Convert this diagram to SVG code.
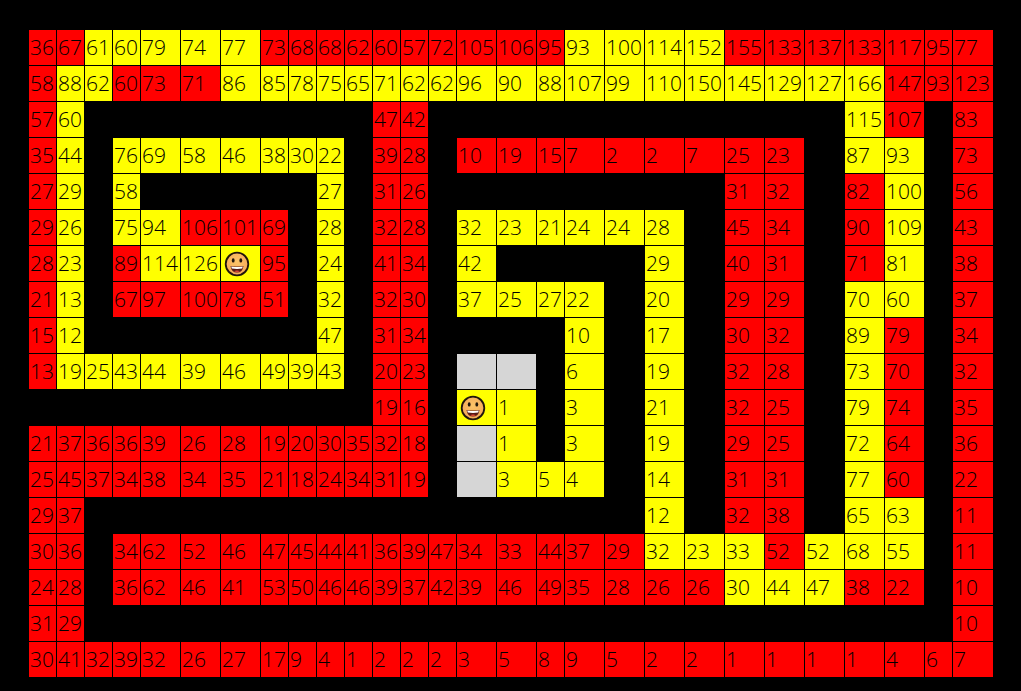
<svg xmlns="http://www.w3.org/2000/svg" width="1021" height="691" viewBox="0 0 1021 691">
<style>
rect.c{height:35px}
.n{width:27px}.w{width:39px}.l{width:40px}
.r{fill:#ff0000}.y{fill:#ffff00}.g{fill:#d6d6d6}
text{font-family:"Open Sans","Noto Sans","Liberation Sans",sans-serif;font-size:21px;font-weight:300;fill:#000}
</style>
<defs>
<radialGradient id="face" cx="50%" cy="40%" r="60%"><stop offset="0" stop-color="#fcc468"/><stop offset="1" stop-color="#f4a858"/></radialGradient>
<g id="smile">
<circle r="11.3" fill="url(#face)" stroke="#20160c" stroke-width="1.8"/>
<ellipse cx="-3.8" cy="-3.6" rx="1.4" ry="2.2" fill="#20160c"/>
<ellipse cx="3.8" cy="-3.6" rx="1.4" ry="2.2" fill="#20160c"/>
<path d="M-6.5 2 Q0 3.2 6.5 2 Q5.6 8.6 0 8.6 Q-5.6 8.6 -6.5 2Z" fill="#5a1a14"/>
<path d="M-5.8 2.4 Q0 3.4 5.8 2.4 L5.2 4.6 Q0 5.2 -5.2 4.6Z" fill="#fff"/>
<path d="M-3 7.2 Q0 5.6 3 7.2 Q0 8.8 -3 7.2Z" fill="#e0483c"/>
</g>
</defs>
<rect id="background" width="1021" height="691" fill="#000"/>
<g id="row0" transform="translate(0,30)"><rect class="c r n" x="29"/><text x="30" y="25">36</text><rect class="c r n" x="57"/><text x="58" y="25">67</text><rect class="c y n" x="85"/><text x="86" y="25">61</text><rect class="c y n" x="113"/><text x="114" y="25">60</text><rect class="c y w" x="141"/><text x="142" y="25">79</text><rect class="c y w" x="181"/><text x="182" y="25">74</text><rect class="c y w" x="221"/><text x="222" y="25">77</text><rect class="c r n" x="261"/><text x="262" y="25">73</text><rect class="c r n" x="289"/><text x="290" y="25">68</text><rect class="c r n" x="317"/><text x="318" y="25">68</text><rect class="c r n" x="345"/><text x="346" y="25">62</text><rect class="c r n" x="373"/><text x="374" y="25">60</text><rect class="c r n" x="401"/><text x="402" y="25">57</text><rect class="c r n" x="429"/><text x="430" y="25">72</text><rect class="c r w" x="457"/><text x="458" y="25">105</text><rect class="c r w" x="497"/><text x="498" y="25">106</text><rect class="c r n" x="537"/><text x="538" y="25">95</text><rect class="c y w" x="565"/><text x="566" y="25">93</text><rect class="c y w" x="605"/><text x="606" y="25">100</text><rect class="c y w" x="645"/><text x="646" y="25">114</text><rect class="c y w" x="685"/><text x="686" y="25">152</text><rect class="c r w" x="725"/><text x="726" y="25">155</text><rect class="c r w" x="765"/><text x="766" y="25">133</text><rect class="c r w" x="805"/><text x="806" y="25">137</text><rect class="c r w" x="845"/><text x="846" y="25">133</text><rect class="c r w" x="885"/><text x="886" y="25">117</text><rect class="c r n" x="925"/><text x="926" y="25">95</text><rect class="c r l" x="953"/><text x="954" y="25">77</text></g>
<g id="row1" transform="translate(0,66)"><rect class="c r n" x="29"/><text x="30" y="25">58</text><rect class="c y n" x="57"/><text x="58" y="25">88</text><rect class="c y n" x="85"/><text x="86" y="25">62</text><rect class="c r n" x="113"/><text x="114" y="25">60</text><rect class="c r w" x="141"/><text x="142" y="25">73</text><rect class="c r w" x="181"/><text x="182" y="25">71</text><rect class="c y w" x="221"/><text x="222" y="25">86</text><rect class="c y n" x="261"/><text x="262" y="25">85</text><rect class="c y n" x="289"/><text x="290" y="25">78</text><rect class="c y n" x="317"/><text x="318" y="25">75</text><rect class="c y n" x="345"/><text x="346" y="25">65</text><rect class="c y n" x="373"/><text x="374" y="25">71</text><rect class="c y n" x="401"/><text x="402" y="25">62</text><rect class="c y n" x="429"/><text x="430" y="25">62</text><rect class="c y w" x="457"/><text x="458" y="25">96</text><rect class="c y w" x="497"/><text x="498" y="25">90</text><rect class="c y n" x="537"/><text x="538" y="25">88</text><rect class="c y w" x="565"/><text x="566" y="25">107</text><rect class="c y w" x="605"/><text x="606" y="25">99</text><rect class="c y w" x="645"/><text x="646" y="25">110</text><rect class="c y w" x="685"/><text x="686" y="25">150</text><rect class="c y w" x="725"/><text x="726" y="25">145</text><rect class="c y w" x="765"/><text x="766" y="25">129</text><rect class="c y w" x="805"/><text x="806" y="25">127</text><rect class="c y w" x="845"/><text x="846" y="25">166</text><rect class="c r w" x="885"/><text x="886" y="25">147</text><rect class="c r n" x="925"/><text x="926" y="25">93</text><rect class="c r l" x="953"/><text x="954" y="25">123</text></g>
<g id="row2" transform="translate(0,102)"><rect class="c r n" x="29"/><text x="30" y="25">57</text><rect class="c y n" x="57"/><text x="58" y="25">60</text><rect class="c r n" x="373"/><text x="374" y="25">47</text><rect class="c r n" x="401"/><text x="402" y="25">42</text><rect class="c y w" x="845"/><text x="846" y="25">115</text><rect class="c r w" x="885"/><text x="886" y="25">107</text><rect class="c r l" x="953"/><text x="954" y="25">83</text></g>
<g id="row3" transform="translate(0,138)"><rect class="c r n" x="29"/><text x="30" y="25">35</text><rect class="c y n" x="57"/><text x="58" y="25">44</text><rect class="c y n" x="113"/><text x="114" y="25">76</text><rect class="c y w" x="141"/><text x="142" y="25">69</text><rect class="c y w" x="181"/><text x="182" y="25">58</text><rect class="c y w" x="221"/><text x="222" y="25">46</text><rect class="c y n" x="261"/><text x="262" y="25">38</text><rect class="c y n" x="289"/><text x="290" y="25">30</text><rect class="c y n" x="317"/><text x="318" y="25">22</text><rect class="c r n" x="373"/><text x="374" y="25">39</text><rect class="c r n" x="401"/><text x="402" y="25">28</text><rect class="c r w" x="457"/><text x="458" y="25">10</text><rect class="c r w" x="497"/><text x="498" y="25">19</text><rect class="c r n" x="537"/><text x="538" y="25">15</text><rect class="c r w" x="565"/><text x="566" y="25">7</text><rect class="c r w" x="605"/><text x="606" y="25">2</text><rect class="c r w" x="645"/><text x="646" y="25">2</text><rect class="c r w" x="685"/><text x="686" y="25">7</text><rect class="c r w" x="725"/><text x="726" y="25">25</text><rect class="c r w" x="765"/><text x="766" y="25">23</text><rect class="c y w" x="845"/><text x="846" y="25">87</text><rect class="c y w" x="885"/><text x="886" y="25">93</text><rect class="c r l" x="953"/><text x="954" y="25">73</text></g>
<g id="row4" transform="translate(0,174)"><rect class="c r n" x="29"/><text x="30" y="25">27</text><rect class="c y n" x="57"/><text x="58" y="25">29</text><rect class="c y n" x="113"/><text x="114" y="25">58</text><rect class="c y n" x="317"/><text x="318" y="25">27</text><rect class="c r n" x="373"/><text x="374" y="25">31</text><rect class="c r n" x="401"/><text x="402" y="25">26</text><rect class="c r w" x="725"/><text x="726" y="25">31</text><rect class="c r w" x="765"/><text x="766" y="25">32</text><rect class="c r w" x="845"/><text x="846" y="25">82</text><rect class="c y w" x="885"/><text x="886" y="25">100</text><rect class="c r l" x="953"/><text x="954" y="25">56</text></g>
<g id="row5" transform="translate(0,210)"><rect class="c r n" x="29"/><text x="30" y="25">29</text><rect class="c y n" x="57"/><text x="58" y="25">26</text><rect class="c y n" x="113"/><text x="114" y="25">75</text><rect class="c y w" x="141"/><text x="142" y="25">94</text><rect class="c r w" x="181"/><text x="182" y="25">106</text><rect class="c r w" x="221"/><text x="222" y="25">101</text><rect class="c r n" x="261"/><text x="262" y="25">69</text><rect class="c y n" x="317"/><text x="318" y="25">28</text><rect class="c r n" x="373"/><text x="374" y="25">32</text><rect class="c r n" x="401"/><text x="402" y="25">28</text><rect class="c y w" x="457"/><text x="458" y="25">32</text><rect class="c y w" x="497"/><text x="498" y="25">23</text><rect class="c y n" x="537"/><text x="538" y="25">21</text><rect class="c y w" x="565"/><text x="566" y="25">24</text><rect class="c y w" x="605"/><text x="606" y="25">24</text><rect class="c y w" x="645"/><text x="646" y="25">28</text><rect class="c r w" x="725"/><text x="726" y="25">45</text><rect class="c r w" x="765"/><text x="766" y="25">34</text><rect class="c r w" x="845"/><text x="846" y="25">90</text><rect class="c y w" x="885"/><text x="886" y="25">109</text><rect class="c r l" x="953"/><text x="954" y="25">43</text></g>
<g id="row6" transform="translate(0,246)"><rect class="c r n" x="29"/><text x="30" y="25">28</text><rect class="c y n" x="57"/><text x="58" y="25">23</text><rect class="c r n" x="113"/><text x="114" y="25">89</text><rect class="c y w" x="141"/><text x="142" y="25">114</text><rect class="c y w" x="181"/><text x="182" y="25">126</text><rect class="c y w" x="221"/><use href="#smile" x="237" y="18"/><rect class="c r n" x="261"/><text x="262" y="25">95</text><rect class="c y n" x="317"/><text x="318" y="25">24</text><rect class="c r n" x="373"/><text x="374" y="25">41</text><rect class="c r n" x="401"/><text x="402" y="25">34</text><rect class="c y w" x="457"/><text x="458" y="25">42</text><rect class="c y w" x="645"/><text x="646" y="25">29</text><rect class="c r w" x="725"/><text x="726" y="25">40</text><rect class="c r w" x="765"/><text x="766" y="25">31</text><rect class="c r w" x="845"/><text x="846" y="25">71</text><rect class="c y w" x="885"/><text x="886" y="25">81</text><rect class="c r l" x="953"/><text x="954" y="25">38</text></g>
<g id="row7" transform="translate(0,282)"><rect class="c r n" x="29"/><text x="30" y="25">21</text><rect class="c y n" x="57"/><text x="58" y="25">13</text><rect class="c r n" x="113"/><text x="114" y="25">67</text><rect class="c r w" x="141"/><text x="142" y="25">97</text><rect class="c r w" x="181"/><text x="182" y="25">100</text><rect class="c r w" x="221"/><text x="222" y="25">78</text><rect class="c r n" x="261"/><text x="262" y="25">51</text><rect class="c y n" x="317"/><text x="318" y="25">32</text><rect class="c r n" x="373"/><text x="374" y="25">32</text><rect class="c r n" x="401"/><text x="402" y="25">30</text><rect class="c y w" x="457"/><text x="458" y="25">37</text><rect class="c y w" x="497"/><text x="498" y="25">25</text><rect class="c y n" x="537"/><text x="538" y="25">27</text><rect class="c y w" x="565"/><text x="566" y="25">22</text><rect class="c y w" x="645"/><text x="646" y="25">20</text><rect class="c r w" x="725"/><text x="726" y="25">29</text><rect class="c r w" x="765"/><text x="766" y="25">29</text><rect class="c y w" x="845"/><text x="846" y="25">70</text><rect class="c y w" x="885"/><text x="886" y="25">60</text><rect class="c r l" x="953"/><text x="954" y="25">37</text></g>
<g id="row8" transform="translate(0,318)"><rect class="c r n" x="29"/><text x="30" y="25">15</text><rect class="c y n" x="57"/><text x="58" y="25">12</text><rect class="c y n" x="317"/><text x="318" y="25">47</text><rect class="c r n" x="373"/><text x="374" y="25">31</text><rect class="c r n" x="401"/><text x="402" y="25">34</text><rect class="c y w" x="565"/><text x="566" y="25">10</text><rect class="c y w" x="645"/><text x="646" y="25">17</text><rect class="c r w" x="725"/><text x="726" y="25">30</text><rect class="c r w" x="765"/><text x="766" y="25">32</text><rect class="c y w" x="845"/><text x="846" y="25">89</text><rect class="c r w" x="885"/><text x="886" y="25">79</text><rect class="c r l" x="953"/><text x="954" y="25">34</text></g>
<g id="row9" transform="translate(0,354)"><rect class="c r n" x="29"/><text x="30" y="25">13</text><rect class="c y n" x="57"/><text x="58" y="25">19</text><rect class="c y n" x="85"/><text x="86" y="25">25</text><rect class="c y n" x="113"/><text x="114" y="25">43</text><rect class="c y w" x="141"/><text x="142" y="25">44</text><rect class="c y w" x="181"/><text x="182" y="25">39</text><rect class="c y w" x="221"/><text x="222" y="25">46</text><rect class="c y n" x="261"/><text x="262" y="25">49</text><rect class="c y n" x="289"/><text x="290" y="25">39</text><rect class="c y n" x="317"/><text x="318" y="25">43</text><rect class="c r n" x="373"/><text x="374" y="25">20</text><rect class="c r n" x="401"/><text x="402" y="25">23</text><rect class="c g w" x="457"/><rect class="c g w" x="497"/><rect class="c y w" x="565"/><text x="566" y="25">6</text><rect class="c y w" x="645"/><text x="646" y="25">19</text><rect class="c r w" x="725"/><text x="726" y="25">32</text><rect class="c r w" x="765"/><text x="766" y="25">28</text><rect class="c y w" x="845"/><text x="846" y="25">73</text><rect class="c r w" x="885"/><text x="886" y="25">70</text><rect class="c r l" x="953"/><text x="954" y="25">32</text></g>
<g id="row10" transform="translate(0,390)"><rect class="c r n" x="373"/><text x="374" y="25">19</text><rect class="c r n" x="401"/><text x="402" y="25">16</text><rect class="c y w" x="457"/><use href="#smile" x="473" y="18"/><rect class="c y w" x="497"/><text x="498" y="25">1</text><rect class="c y w" x="565"/><text x="566" y="25">3</text><rect class="c y w" x="645"/><text x="646" y="25">21</text><rect class="c r w" x="725"/><text x="726" y="25">32</text><rect class="c r w" x="765"/><text x="766" y="25">25</text><rect class="c y w" x="845"/><text x="846" y="25">79</text><rect class="c r w" x="885"/><text x="886" y="25">74</text><rect class="c r l" x="953"/><text x="954" y="25">35</text></g>
<g id="row11" transform="translate(0,426)"><rect class="c r n" x="29"/><text x="30" y="25">21</text><rect class="c r n" x="57"/><text x="58" y="25">37</text><rect class="c r n" x="85"/><text x="86" y="25">36</text><rect class="c r n" x="113"/><text x="114" y="25">36</text><rect class="c r w" x="141"/><text x="142" y="25">39</text><rect class="c r w" x="181"/><text x="182" y="25">26</text><rect class="c r w" x="221"/><text x="222" y="25">28</text><rect class="c r n" x="261"/><text x="262" y="25">19</text><rect class="c r n" x="289"/><text x="290" y="25">20</text><rect class="c r n" x="317"/><text x="318" y="25">30</text><rect class="c r n" x="345"/><text x="346" y="25">35</text><rect class="c r n" x="373"/><text x="374" y="25">32</text><rect class="c r n" x="401"/><text x="402" y="25">18</text><rect class="c g w" x="457"/><rect class="c y w" x="497"/><text x="498" y="25">1</text><rect class="c y w" x="565"/><text x="566" y="25">3</text><rect class="c y w" x="645"/><text x="646" y="25">19</text><rect class="c r w" x="725"/><text x="726" y="25">29</text><rect class="c r w" x="765"/><text x="766" y="25">25</text><rect class="c y w" x="845"/><text x="846" y="25">72</text><rect class="c r w" x="885"/><text x="886" y="25">64</text><rect class="c r l" x="953"/><text x="954" y="25">36</text></g>
<g id="row12" transform="translate(0,462)"><rect class="c r n" x="29"/><text x="30" y="25">25</text><rect class="c r n" x="57"/><text x="58" y="25">45</text><rect class="c r n" x="85"/><text x="86" y="25">37</text><rect class="c r n" x="113"/><text x="114" y="25">34</text><rect class="c r w" x="141"/><text x="142" y="25">38</text><rect class="c r w" x="181"/><text x="182" y="25">34</text><rect class="c r w" x="221"/><text x="222" y="25">35</text><rect class="c r n" x="261"/><text x="262" y="25">21</text><rect class="c r n" x="289"/><text x="290" y="25">18</text><rect class="c r n" x="317"/><text x="318" y="25">24</text><rect class="c r n" x="345"/><text x="346" y="25">34</text><rect class="c r n" x="373"/><text x="374" y="25">31</text><rect class="c r n" x="401"/><text x="402" y="25">19</text><rect class="c g w" x="457"/><rect class="c y w" x="497"/><text x="498" y="25">3</text><rect class="c y n" x="537"/><text x="538" y="25">5</text><rect class="c y w" x="565"/><text x="566" y="25">4</text><rect class="c y w" x="645"/><text x="646" y="25">14</text><rect class="c r w" x="725"/><text x="726" y="25">31</text><rect class="c r w" x="765"/><text x="766" y="25">31</text><rect class="c y w" x="845"/><text x="846" y="25">77</text><rect class="c r w" x="885"/><text x="886" y="25">60</text><rect class="c r l" x="953"/><text x="954" y="25">22</text></g>
<g id="row13" transform="translate(0,498)"><rect class="c r n" x="29"/><text x="30" y="25">29</text><rect class="c r n" x="57"/><text x="58" y="25">37</text><rect class="c y w" x="645"/><text x="646" y="25">12</text><rect class="c r w" x="725"/><text x="726" y="25">32</text><rect class="c r w" x="765"/><text x="766" y="25">38</text><rect class="c y w" x="845"/><text x="846" y="25">65</text><rect class="c y w" x="885"/><text x="886" y="25">63</text><rect class="c r l" x="953"/><text x="954" y="25">11</text></g>
<g id="row14" transform="translate(0,534)"><rect class="c r n" x="29"/><text x="30" y="25">30</text><rect class="c r n" x="57"/><text x="58" y="25">36</text><rect class="c r n" x="113"/><text x="114" y="25">34</text><rect class="c r w" x="141"/><text x="142" y="25">62</text><rect class="c r w" x="181"/><text x="182" y="25">52</text><rect class="c r w" x="221"/><text x="222" y="25">46</text><rect class="c r n" x="261"/><text x="262" y="25">47</text><rect class="c r n" x="289"/><text x="290" y="25">45</text><rect class="c r n" x="317"/><text x="318" y="25">44</text><rect class="c r n" x="345"/><text x="346" y="25">41</text><rect class="c r n" x="373"/><text x="374" y="25">36</text><rect class="c r n" x="401"/><text x="402" y="25">39</text><rect class="c r n" x="429"/><text x="430" y="25">47</text><rect class="c r w" x="457"/><text x="458" y="25">34</text><rect class="c r w" x="497"/><text x="498" y="25">33</text><rect class="c r n" x="537"/><text x="538" y="25">44</text><rect class="c r w" x="565"/><text x="566" y="25">37</text><rect class="c r w" x="605"/><text x="606" y="25">29</text><rect class="c y w" x="645"/><text x="646" y="25">32</text><rect class="c y w" x="685"/><text x="686" y="25">23</text><rect class="c y w" x="725"/><text x="726" y="25">33</text><rect class="c r w" x="765"/><text x="766" y="25">52</text><rect class="c y w" x="805"/><text x="806" y="25">52</text><rect class="c y w" x="845"/><text x="846" y="25">68</text><rect class="c y w" x="885"/><text x="886" y="25">55</text><rect class="c r l" x="953"/><text x="954" y="25">11</text></g>
<g id="row15" transform="translate(0,570)"><rect class="c r n" x="29"/><text x="30" y="25">24</text><rect class="c r n" x="57"/><text x="58" y="25">28</text><rect class="c r n" x="113"/><text x="114" y="25">36</text><rect class="c r w" x="141"/><text x="142" y="25">62</text><rect class="c r w" x="181"/><text x="182" y="25">46</text><rect class="c r w" x="221"/><text x="222" y="25">41</text><rect class="c r n" x="261"/><text x="262" y="25">53</text><rect class="c r n" x="289"/><text x="290" y="25">50</text><rect class="c r n" x="317"/><text x="318" y="25">46</text><rect class="c r n" x="345"/><text x="346" y="25">46</text><rect class="c r n" x="373"/><text x="374" y="25">39</text><rect class="c r n" x="401"/><text x="402" y="25">37</text><rect class="c r n" x="429"/><text x="430" y="25">42</text><rect class="c r w" x="457"/><text x="458" y="25">39</text><rect class="c r w" x="497"/><text x="498" y="25">46</text><rect class="c r n" x="537"/><text x="538" y="25">49</text><rect class="c r w" x="565"/><text x="566" y="25">35</text><rect class="c r w" x="605"/><text x="606" y="25">28</text><rect class="c r w" x="645"/><text x="646" y="25">26</text><rect class="c r w" x="685"/><text x="686" y="25">26</text><rect class="c y w" x="725"/><text x="726" y="25">30</text><rect class="c y w" x="765"/><text x="766" y="25">44</text><rect class="c y w" x="805"/><text x="806" y="25">47</text><rect class="c r w" x="845"/><text x="846" y="25">38</text><rect class="c r w" x="885"/><text x="886" y="25">22</text><rect class="c r l" x="953"/><text x="954" y="25">10</text></g>
<g id="row16" transform="translate(0,606)"><rect class="c r n" x="29"/><text x="30" y="25">31</text><rect class="c r n" x="57"/><text x="58" y="25">29</text><rect class="c r l" x="953"/><text x="954" y="25">10</text></g>
<g id="row17" transform="translate(0,642)"><rect class="c r n" x="29"/><text x="30" y="25">30</text><rect class="c r n" x="57"/><text x="58" y="25">41</text><rect class="c r n" x="85"/><text x="86" y="25">32</text><rect class="c r n" x="113"/><text x="114" y="25">39</text><rect class="c r w" x="141"/><text x="142" y="25">32</text><rect class="c r w" x="181"/><text x="182" y="25">26</text><rect class="c r w" x="221"/><text x="222" y="25">27</text><rect class="c r n" x="261"/><text x="262" y="25">17</text><rect class="c r n" x="289"/><text x="290" y="25">9</text><rect class="c r n" x="317"/><text x="318" y="25">4</text><rect class="c r n" x="345"/><text x="346" y="25">1</text><rect class="c r n" x="373"/><text x="374" y="25">2</text><rect class="c r n" x="401"/><text x="402" y="25">2</text><rect class="c r n" x="429"/><text x="430" y="25">2</text><rect class="c r w" x="457"/><text x="458" y="25">3</text><rect class="c r w" x="497"/><text x="498" y="25">5</text><rect class="c r n" x="537"/><text x="538" y="25">8</text><rect class="c r w" x="565"/><text x="566" y="25">9</text><rect class="c r w" x="605"/><text x="606" y="25">5</text><rect class="c r w" x="645"/><text x="646" y="25">2</text><rect class="c r w" x="685"/><text x="686" y="25">2</text><rect class="c r w" x="725"/><text x="726" y="25">1</text><rect class="c r w" x="765"/><text x="766" y="25">1</text><rect class="c r w" x="805"/><text x="806" y="25">1</text><rect class="c r w" x="845"/><text x="846" y="25">1</text><rect class="c r w" x="885"/><text x="886" y="25">4</text><rect class="c r n" x="925"/><text x="926" y="25">6</text><rect class="c r l" x="953"/><text x="954" y="25">7</text></g>
</svg>
